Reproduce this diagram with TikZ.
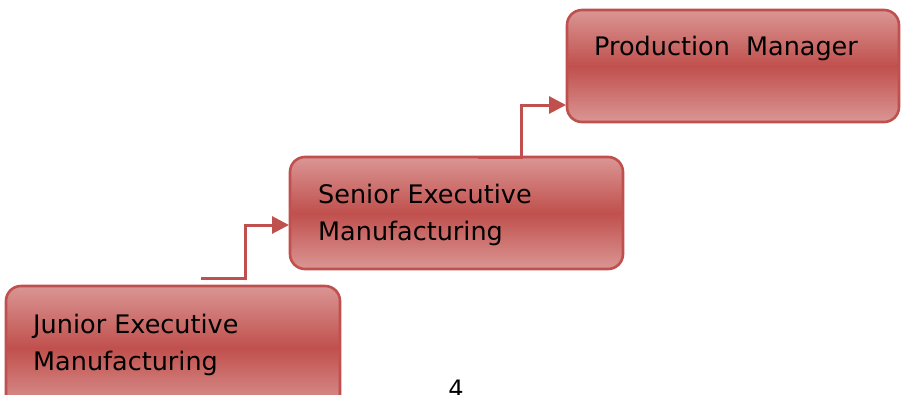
\documentclass[tikz,border=0pt]{standalone}
\usepackage{fontspec}
\setmainfont{DejaVu Sans}
\usetikzlibrary{arrows.meta}
\definecolor{boxred}{HTML}{C0504D}
\definecolor{boxlight}{HTML}{DA9694}
\tikzset{
  stepbox/.style={draw=boxred, line width=2.6pt, rounded corners=15pt,
    top color=boxlight, bottom color=boxlight, middle color=boxred},
  lbl/.style={anchor=base west, inner sep=0pt, font=\fontsize{25.5}{30}\selectfont, text=black},
  conn/.style={draw=boxred, line width=3pt, -{Triangle[length=17pt,width=17pt]}}
}
\begin{document}
\begin{tikzpicture}[x=1pt,y=-1pt]
\useasboundingbox (0,0) rectangle (901,394);
\path[stepbox] (6,286) rectangle (340,410);
\path[stepbox] (290,157) rectangle (623,269);
\path[stepbox] (567,10) rectangle (899,122);
\node (J) [inner sep=0pt] at (173,340) {};
\node (S) [inner sep=0pt] at (456,213) {};
\node (P) [inner sep=0pt] at (733,66) {};
\node[lbl] (j1) at (33,333) {Junior Executive};
\node[lbl] (j2) at (33,370) {Manufacturing};
\node[lbl] (s1) at (318,203) {Senior Executive};
\node[lbl] (s2) at (318,240) {Manufacturing};
\node[lbl] (p1) at (594,55) {Production\ \ Manager};
\node[anchor=north, inner sep=0pt, font=\fontsize{24}{28}\selectfont] (pg) at (456,380) {4};
\coordinate (c1) at (201,278);
\coordinate (c2) at (478,157);
\draw[conn] (c1) -- (245,278) -- (245,225) -- (289,225);
\draw[conn] (c2) -- (521,157) -- (521,105) -- (566,105);
\end{tikzpicture}
\end{document}
